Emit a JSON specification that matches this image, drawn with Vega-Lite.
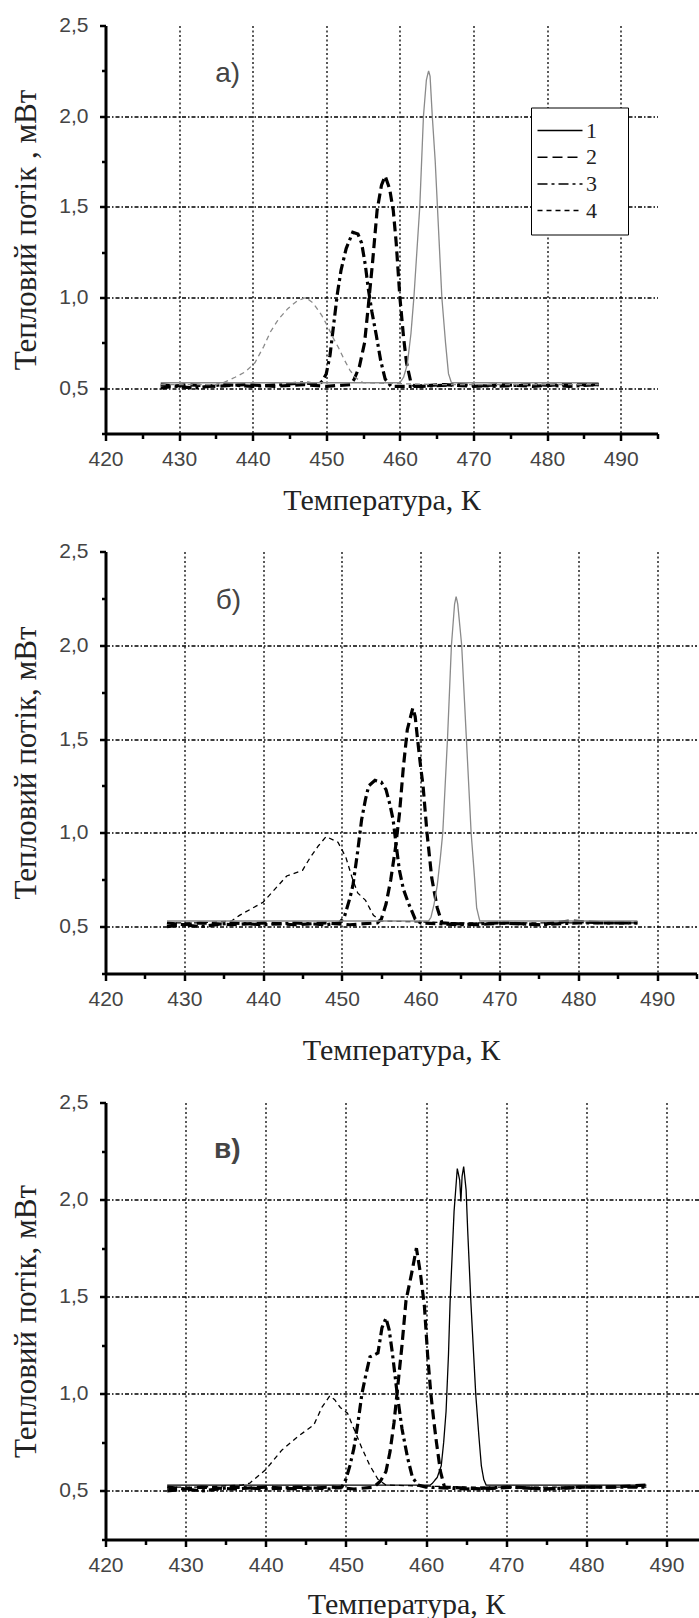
{
"$schema": "https://vega.github.io/schema/vega-lite/v6.json",
"padding": {"left": 10.5, "top": 14.5, "right": 0, "bottom": 0},
"background": "white",
"spacing": 25,
"config": {"view": {"stroke": null}, "font": "Liberation Sans",
 "line": {"strokeCap": "butt"},
 "text": {"font": "Liberation Sans", "fontSize": 28, "color": "#444"}
},
"resolve": {"legend": {"strokeDash": "independent"}},
"datasets": {
"a": [
{"s":"1","T":427.5,"v":0.53},{"s":"1","T":440,"v":0.53},{"s":"1","T":455,"v":0.53},{"s":"1","T":460,"v":0.53},{"s":"1","T":460.5,"v":0.56},{"s":"1","T":461,"v":0.63},{"s":"1","T":461.5,"v":0.8},{"s":"1","T":461.9,"v":1.0},{"s":"1","T":462.3,"v":1.25},{"s":"1","T":462.7,"v":1.5},{"s":"1","T":463.2,"v":2.0},{"s":"1","T":463.6,"v":2.2},{"s":"1","T":463.9,"v":2.25},{"s":"1","T":464.1,"v":2.22},{"s":"1","T":464.4,"v":2.0},{"s":"1","T":464.8,"v":1.75},{"s":"1","T":465.1,"v":1.5},{"s":"1","T":465.7,"v":1.0},{"s":"1","T":466.2,"v":0.75},{"s":"1","T":466.6,"v":0.58},{"s":"1","T":467,"v":0.53},{"s":"1","T":475,"v":0.53},{"s":"1","T":487,"v":0.53},
{"s":"2","T":427.5,"v":0.5},{"s":"2","T":431,"v":0.52},{"s":"2","T":435,"v":0.51},{"s":"2","T":439,"v":0.52},{"s":"2","T":443,"v":0.51},{"s":"2","T":447,"v":0.52},{"s":"2","T":450,"v":0.51},{"s":"2","T":453.3,"v":0.52},{"s":"2","T":453.8,"v":0.55},{"s":"2","T":454.5,"v":0.62},{"s":"2","T":455.2,"v":0.75},{"s":"2","T":455.7,"v":0.95},{"s":"2","T":456.3,"v":1.2},{"s":"2","T":456.9,"v":1.48},{"s":"2","T":457.5,"v":1.62},{"s":"2","T":458,"v":1.67},{"s":"2","T":458.6,"v":1.6},{"s":"2","T":459.1,"v":1.48},{"s":"2","T":459.5,"v":1.3},{"s":"2","T":460,"v":1.0},{"s":"2","T":460.5,"v":0.78},{"s":"2","T":460.9,"v":0.64},{"s":"2","T":461.5,"v":0.53},{"s":"2","T":462,"v":0.51},{"s":"2","T":466,"v":0.52},{"s":"2","T":470,"v":0.51},{"s":"2","T":474,"v":0.52},{"s":"2","T":478,"v":0.51},{"s":"2","T":482,"v":0.52},{"s":"2","T":487,"v":0.52},
{"s":"3","T":427.5,"v":0.52},{"s":"3","T":432,"v":0.5},{"s":"3","T":436,"v":0.52},{"s":"3","T":440,"v":0.51},{"s":"3","T":444,"v":0.52},{"s":"3","T":447,"v":0.53},{"s":"3","T":449,"v":0.52},{"s":"3","T":449.5,"v":0.54},{"s":"3","T":450,"v":0.58},{"s":"3","T":450.5,"v":0.68},{"s":"3","T":451,"v":0.85},{"s":"3","T":451.5,"v":1.02},{"s":"3","T":452,"v":1.15},{"s":"3","T":452.7,"v":1.27},{"s":"3","T":453.6,"v":1.36},{"s":"3","T":454.3,"v":1.35},{"s":"3","T":454.8,"v":1.3},{"s":"3","T":455.3,"v":1.18},{"s":"3","T":455.7,"v":1.05},{"s":"3","T":456.2,"v":0.92},{"s":"3","T":456.8,"v":0.79},{"s":"3","T":457.4,"v":0.65},{"s":"3","T":458,"v":0.55},{"s":"3","T":458.8,"v":0.51},{"s":"3","T":463,"v":0.51},{"s":"3","T":468,"v":0.52},{"s":"3","T":473,"v":0.51},{"s":"3","T":478,"v":0.52},{"s":"3","T":483,"v":0.51},{"s":"3","T":487,"v":0.52},
{"s":"4","T":427.5,"v":0.52},{"s":"4","T":432,"v":0.52},{"s":"4","T":435,"v":0.52},{"s":"4","T":436,"v":0.53},{"s":"4","T":437.6,"v":0.56},{"s":"4","T":439,"v":0.59},{"s":"4","T":440.3,"v":0.64},{"s":"4","T":441.5,"v":0.73},{"s":"4","T":442.4,"v":0.81},{"s":"4","T":443.5,"v":0.88},{"s":"4","T":444.8,"v":0.94},{"s":"4","T":446,"v":0.98},{"s":"4","T":447.2,"v":1.0},{"s":"4","T":448.2,"v":0.97},{"s":"4","T":449.4,"v":0.9},{"s":"4","T":450.2,"v":0.84},{"s":"4","T":450.9,"v":0.78},{"s":"4","T":451.7,"v":0.72},{"s":"4","T":452.4,"v":0.66},{"s":"4","T":453.2,"v":0.6},{"s":"4","T":453.9,"v":0.56},{"s":"4","T":455,"v":0.53},{"s":"4","T":465,"v":0.52},{"s":"4","T":487,"v":0.52}
],
"b": [
{"s":"1","T":427.8,"v":0.53},{"s":"1","T":440,"v":0.53},{"s":"1","T":455,"v":0.53},{"s":"1","T":461,"v":0.53},{"s":"1","T":461.3,"v":0.55},{"s":"1","T":461.7,"v":0.62},{"s":"1","T":462.1,"v":0.72},{"s":"1","T":462.5,"v":0.87},{"s":"1","T":462.8,"v":1.0},{"s":"1","T":463.1,"v":1.25},{"s":"1","T":463.4,"v":1.5},{"s":"1","T":463.9,"v":2.0},{"s":"1","T":464.3,"v":2.22},{"s":"1","T":464.5,"v":2.26},{"s":"1","T":464.7,"v":2.22},{"s":"1","T":465.2,"v":2.0},{"s":"1","T":465.8,"v":1.5},{"s":"1","T":466.4,"v":1.0},{"s":"1","T":466.8,"v":0.78},{"s":"1","T":467.1,"v":0.6},{"s":"1","T":467.5,"v":0.53},{"s":"1","T":477,"v":0.53},{"s":"1","T":487.5,"v":0.53},
{"s":"2","T":427.8,"v":0.5},{"s":"2","T":432,"v":0.52},{"s":"2","T":436,"v":0.51},{"s":"2","T":440,"v":0.52},{"s":"2","T":444,"v":0.51},{"s":"2","T":448,"v":0.52},{"s":"2","T":451,"v":0.51},{"s":"2","T":454.5,"v":0.52},{"s":"2","T":455,"v":0.54},{"s":"2","T":455.6,"v":0.62},{"s":"2","T":456.2,"v":0.75},{"s":"2","T":456.8,"v":0.92},{"s":"2","T":457.3,"v":1.1},{"s":"2","T":457.8,"v":1.35},{"s":"2","T":458.3,"v":1.55},{"s":"2","T":459,"v":1.666},{"s":"2","T":459.3,"v":1.62},{"s":"2","T":459.6,"v":1.5},{"s":"2","T":460,"v":1.35},{"s":"2","T":460.3,"v":1.25},{"s":"2","T":460.6,"v":1.1},{"s":"2","T":460.8,"v":1.0},{"s":"2","T":461.1,"v":0.88},{"s":"2","T":461.4,"v":0.76},{"s":"2","T":462.1,"v":0.6},{"s":"2","T":462.7,"v":0.52},{"s":"2","T":467,"v":0.51},{"s":"2","T":471,"v":0.52},{"s":"2","T":475,"v":0.51},{"s":"2","T":479,"v":0.53},{"s":"2","T":483,"v":0.52},{"s":"2","T":487.5,"v":0.52},
{"s":"3","T":427.8,"v":0.52},{"s":"3","T":432,"v":0.5},{"s":"3","T":436,"v":0.52},{"s":"3","T":440,"v":0.51},{"s":"3","T":444,"v":0.52},{"s":"3","T":448,"v":0.51},{"s":"3","T":449.7,"v":0.52},{"s":"3","T":450.3,"v":0.55},{"s":"3","T":451,"v":0.65},{"s":"3","T":451.4,"v":0.72},{"s":"3","T":452,"v":0.9},{"s":"3","T":452.5,"v":1.07},{"s":"3","T":453,"v":1.18},{"s":"3","T":453.4,"v":1.25},{"s":"3","T":454.2,"v":1.28},{"s":"3","T":455,"v":1.27},{"s":"3","T":455.6,"v":1.23},{"s":"3","T":456.1,"v":1.15},{"s":"3","T":456.5,"v":1.07},{"s":"3","T":456.9,"v":0.93},{"s":"3","T":457.3,"v":0.8},{"s":"3","T":457.8,"v":0.7},{"s":"3","T":458.4,"v":0.63},{"s":"3","T":459.3,"v":0.54},{"s":"3","T":460,"v":0.52},{"s":"3","T":465,"v":0.51},{"s":"3","T":470,"v":0.52},{"s":"3","T":475,"v":0.51},{"s":"3","T":480,"v":0.52},{"s":"3","T":487.5,"v":0.52},
{"s":"4","T":427.8,"v":0.52},{"s":"4","T":432,"v":0.52},{"s":"4","T":436,"v":0.53},{"s":"4","T":437,"v":0.56},{"s":"4","T":440,"v":0.63},{"s":"4","T":441.5,"v":0.7},{"s":"4","T":443,"v":0.77},{"s":"4","T":445,"v":0.8},{"s":"4","T":446,"v":0.87},{"s":"4","T":447,"v":0.93},{"s":"4","T":448,"v":0.98},{"s":"4","T":449.5,"v":0.95},{"s":"4","T":450.5,"v":0.87},{"s":"4","T":451.3,"v":0.76},{"s":"4","T":452,"v":0.68},{"s":"4","T":453,"v":0.64},{"s":"4","T":454,"v":0.56},{"s":"4","T":455,"v":0.53},{"s":"4","T":465,"v":0.52},{"s":"4","T":487.5,"v":0.52}
],
"c": [
{"s":"1","T":427.7,"v":0.53},{"s":"1","T":440,"v":0.53},{"s":"1","T":455,"v":0.53},{"s":"1","T":460.5,"v":0.53},{"s":"1","T":460.8,"v":0.54},{"s":"1","T":461.4,"v":0.57},{"s":"1","T":461.9,"v":0.63},{"s":"1","T":462.2,"v":0.75},{"s":"1","T":462.5,"v":0.91},{"s":"1","T":462.8,"v":1.2},{"s":"1","T":463,"v":1.47},{"s":"1","T":463.5,"v":1.94},{"s":"1","T":463.9,"v":2.16},{"s":"1","T":464.2,"v":2.1},{"s":"1","T":464.35,"v":1.99},{"s":"1","T":464.5,"v":2.12},{"s":"1","T":464.7,"v":2.17},{"s":"1","T":465,"v":2.05},{"s":"1","T":465.2,"v":1.84},{"s":"1","T":465.6,"v":1.47},{"s":"1","T":466.2,"v":1.0},{"s":"1","T":466.6,"v":0.78},{"s":"1","T":466.9,"v":0.63},{"s":"1","T":467.2,"v":0.56},{"s":"1","T":467.5,"v":0.53},{"s":"1","T":477,"v":0.53},{"s":"1","T":487.5,"v":0.53},
{"s":"2","T":427.7,"v":0.5},{"s":"2","T":432,"v":0.52},{"s":"2","T":436,"v":0.51},{"s":"2","T":440,"v":0.52},{"s":"2","T":444,"v":0.51},{"s":"2","T":448,"v":0.52},{"s":"2","T":451,"v":0.51},{"s":"2","T":453.5,"v":0.52},{"s":"2","T":454.3,"v":0.55},{"s":"2","T":455,"v":0.6},{"s":"2","T":455.5,"v":0.7},{"s":"2","T":456,"v":0.85},{"s":"2","T":456.5,"v":1.05},{"s":"2","T":457,"v":1.25},{"s":"2","T":457.5,"v":1.48},{"s":"2","T":458.2,"v":1.62},{"s":"2","T":458.8,"v":1.75},{"s":"2","T":459.3,"v":1.62},{"s":"2","T":459.8,"v":1.45},{"s":"2","T":460.2,"v":1.2},{"s":"2","T":460.6,"v":1.0},{"s":"2","T":461,"v":0.85},{"s":"2","T":461.3,"v":0.75},{"s":"2","T":461.8,"v":0.6},{"s":"2","T":462.3,"v":0.52},{"s":"2","T":467,"v":0.51},{"s":"2","T":471,"v":0.52},{"s":"2","T":475,"v":0.51},{"s":"2","T":479,"v":0.52},{"s":"2","T":483,"v":0.52},{"s":"2","T":487.5,"v":0.53},
{"s":"3","T":427.7,"v":0.52},{"s":"3","T":432,"v":0.5},{"s":"3","T":436,"v":0.52},{"s":"3","T":440,"v":0.51},{"s":"3","T":444,"v":0.52},{"s":"3","T":448,"v":0.51},{"s":"3","T":449.5,"v":0.52},{"s":"3","T":450,"v":0.56},{"s":"3","T":450.5,"v":0.63},{"s":"3","T":451,"v":0.72},{"s":"3","T":451.5,"v":0.85},{"s":"3","T":452,"v":1.0},{"s":"3","T":452.5,"v":1.1},{"s":"3","T":453,"v":1.19},{"s":"3","T":454,"v":1.21},{"s":"3","T":454.5,"v":1.34},{"s":"3","T":455,"v":1.39},{"s":"3","T":455.4,"v":1.33},{"s":"3","T":455.8,"v":1.21},{"s":"3","T":456.4,"v":1.0},{"s":"3","T":457,"v":0.82},{"s":"3","T":457.7,"v":0.67},{"s":"3","T":458.3,"v":0.57},{"s":"3","T":459,"v":0.53},{"s":"3","T":460,"v":0.52},{"s":"3","T":465,"v":0.51},{"s":"3","T":470,"v":0.52},{"s":"3","T":475,"v":0.51},{"s":"3","T":480,"v":0.52},{"s":"3","T":487.5,"v":0.52},
{"s":"4","T":427.7,"v":0.52},{"s":"4","T":432,"v":0.52},{"s":"4","T":437,"v":0.53},{"s":"4","T":438,"v":0.54},{"s":"4","T":440,"v":0.61},{"s":"4","T":442,"v":0.71},{"s":"4","T":444,"v":0.78},{"s":"4","T":446,"v":0.84},{"s":"4","T":447,"v":0.93},{"s":"4","T":448,"v":0.99},{"s":"4","T":448.6,"v":0.97},{"s":"4","T":449.3,"v":0.93},{"s":"4","T":450.2,"v":0.9},{"s":"4","T":451,"v":0.82},{"s":"4","T":452,"v":0.72},{"s":"4","T":453,"v":0.63},{"s":"4","T":454,"v":0.56},{"s":"4","T":455,"v":0.53},{"s":"4","T":465,"v":0.52},{"s":"4","T":487.5,"v":0.52}
]
},
"vconcat": [
{
"width": 552, "height": 408,
"encoding": {
 "x": {"field": "T", "type": "quantitative", "scale": {"domain": [420, 495], "nice": false, "zero": false},
  "axis": {"title": "Температура, К", "values": [420,425,430,435,440,445,450,455,460,465,470,475,480,485,490,495], "labelExpr": "datum.value % 10 == 0 && datum.value < 495 ? datum.label : ''", "tickSize": {"condition": {"test": "datum.value % 10 != 0", "value": 5}, "value": 7}, "grid": true, "gridOpacity": {"condition": {"test": "datum.value % 10 == 0 && datum.value > 420", "value": 1}, "value": 0}, "gridDash": [2, 2.5], "gridColor": "#000", "gridWidth": 1.3, "domainColor": "#000", "domainWidth": 3, "tickColor": "#000", "tickWidth": 2.5, "labelFont": "Liberation Sans", "labelFontSize": 21, "labelColor": "#444", "labelPadding": 7.5, "labelOverlap": false, "labelFlush": false, "titleFont": "Liberation Serif", "titleFontSize": 30, "titleFontWeight": "normal", "titleColor": "#222", "titlePadding": 16}},
 "y": {"field": "v", "type": "quantitative", "scale": {"domain": [0.25, 2.5], "nice": false, "zero": false},
  "axis": {"title": "Тепловий потік , мВт", "values": [0.25,0.5,0.75,1,1.25,1.5,1.75,2,2.25,2.5], "labelExpr": "round(datum.value*4) % 2 == 0 ? replace(format(datum.value, '.1f'), '.', ',') : ''", "tickSize": {"condition": {"test": "round(datum.value*4) % 2 != 0", "value": 4}, "value": 6}, "grid": true, "gridOpacity": {"condition": {"test": "round(datum.value*4) % 2 == 0 && datum.value < 2.4", "value": 1}, "value": 0}, "gridDash": [4, 2, 1.5, 2], "gridColor": "#000", "gridWidth": 1.3, "domainColor": "#000", "domainWidth": 3, "tickColor": "#000", "tickWidth": 2.5, "labelFont": "Liberation Sans", "labelFontSize": 21, "labelColor": "#444", "labelPadding": 11.5, "labelOverlap": false, "labelFlush": false, "titleFont": "Liberation Serif", "titleFontSize": 31, "titleFontWeight": "normal", "titleColor": "#222", "titlePadding": 16.3}}
},
"layer": [
{"data": {"name": "a"}, "transform": [{"filter": "datum.s == '2' || datum.s == '3'"}], "mark": {"type": "line", "color": "#000", "strokeWidth": 3.2},
 "encoding": {
  "strokeDash": {"field": "s", "type": "ordinal", "scale": {"domain": ["1","2","3","4"], "range": [[1,0],[10,5],[10,4,3,4],[5,4]]},
   "legend": {"orient": "none", "legendX": 425.5, "legendY": 82, "title": "0", "titleOrient": "right", "titleOpacity": 0, "titleFont": "Liberation Serif", "titleFontSize": 22, "titlePadding": 8, "symbolType": "M-3,0L3,0", "symbolSize": 225, "symbolOffset": 6, "labelOffset": 15, "padding": 12, "rowPadding": 4.7, "labelFont": "Liberation Serif", "labelFontSize": 22, "labelColor": "#222", "strokeColor": "#000", "fillColor": "#fff",
    "encode": {"symbols": {"update": {"stroke": {"value": "#000"}, "strokeWidth": {"signal": "datum.value == '2' || datum.value == '3' ? 3.2 : 1.3"}}}, "legend": {"update": {"strokeWidth": {"value": 1.6}}}}}}
 }},
{"data": {"name": "a"}, "transform": [{"filter": "datum.s == '1' || datum.s == '4'"}], "mark": {"type": "line", "color": "#8a8a8a", "strokeWidth": 1.3},
 "encoding": {"strokeDash": {"field": "s", "type": "ordinal"}}},
{"data": {"values": [{"T": 436.6, "v": 2.235, "t": "а)"}]}, "mark": {"type": "text"}, "encoding": {"text": {"field": "t"}}}
]
},
{
"width": 591, "height": 422,
"encoding": {
 "x": {"field": "T", "type": "quantitative", "scale": {"domain": [420, 495], "nice": false, "zero": false},
  "axis": {"title": "Температура, К", "values": [420,425,430,435,440,445,450,455,460,465,470,475,480,485,490,495], "labelExpr": "datum.value % 10 == 0 && datum.value < 495 ? datum.label : ''", "tickSize": {"condition": {"test": "datum.value % 10 != 0", "value": 5}, "value": 7}, "grid": true, "gridOpacity": {"condition": {"test": "datum.value % 10 == 0 && datum.value > 420", "value": 1}, "value": 0}, "gridDash": [2, 2.5], "gridColor": "#000", "gridWidth": 1.3, "domainColor": "#000", "domainWidth": 3, "tickColor": "#000", "tickWidth": 2.5, "labelFont": "Liberation Sans", "labelFontSize": 21, "labelColor": "#444", "labelPadding": 7.5, "labelOverlap": false, "labelFlush": false, "titleFont": "Liberation Serif", "titleFontSize": 30, "titleFontWeight": "normal", "titleColor": "#222", "titlePadding": 26.8}},
 "y": {"field": "v", "type": "quantitative", "scale": {"domain": [0.25, 2.5], "nice": false, "zero": false},
  "axis": {"title": "Тепловий потік,  мВт", "values": [0.25,0.5,0.75,1,1.25,1.5,1.75,2,2.25,2.5], "labelExpr": "round(datum.value*4) % 2 == 0 ? replace(format(datum.value, '.1f'), '.', ',') : ''", "tickSize": {"condition": {"test": "round(datum.value*4) % 2 != 0", "value": 4}, "value": 6}, "grid": true, "gridOpacity": {"condition": {"test": "round(datum.value*4) % 2 == 0 && datum.value < 2.4", "value": 1}, "value": 0}, "gridDash": [4, 2, 1.5, 2], "gridColor": "#000", "gridWidth": 1.3, "domainColor": "#000", "domainWidth": 3, "tickColor": "#000", "tickWidth": 2.5, "labelFont": "Liberation Sans", "labelFontSize": 21, "labelColor": "#444", "labelPadding": 11.5, "labelOverlap": false, "labelFlush": false, "titleFont": "Liberation Serif", "titleFontSize": 31, "titleFontWeight": "normal", "titleColor": "#222", "titlePadding": 16.3}}
},
"layer": [
{"data": {"name": "b"}, "transform": [{"filter": "datum.s == '2' || datum.s == '3'"}], "mark": {"type": "line", "color": "#000", "strokeWidth": 3.2},
 "encoding": {"strokeDash": {"field": "s", "type": "ordinal", "scale": {"domain": ["1","2","3","4"], "range": [[1,0],[10,5],[10,4,3,4],[5,4]]}, "legend": null}}},
{"data": {"name": "b"}, "transform": [{"filter": "datum.s == '4'"}], "mark": {"type": "line", "color": "#000", "strokeWidth": 1.3},
 "encoding": {"strokeDash": {"field": "s", "type": "ordinal", "legend": null}}},
{"data": {"name": "b"}, "transform": [{"filter": "datum.s == '1'"}], "mark": {"type": "line", "color": "#8a8a8a", "strokeWidth": 1.3},
 "encoding": {"strokeDash": {"field": "s", "type": "ordinal", "legend": null}}},
{"data": {"values": [{"T": 435.6, "v": 2.234, "t": "б)"}]}, "mark": {"type": "text"}, "encoding": {"text": {"field": "t"}}}
]
},
{
"width": 601, "height": 437,
"encoding": {
 "x": {"field": "T", "type": "quantitative", "scale": {"domain": [420, 495], "nice": false, "zero": false},
  "axis": {"title": "Температура, К", "values": [420,425,430,435,440,445,450,455,460,465,470,475,480,485,490,495], "labelExpr": "datum.value % 10 == 0 && datum.value < 495 ? datum.label : ''", "tickSize": {"condition": {"test": "datum.value % 10 != 0", "value": 5}, "value": 7}, "grid": true, "gridOpacity": {"condition": {"test": "datum.value % 10 == 0 && datum.value > 420", "value": 1}, "value": 0}, "gridDash": [2, 2.5], "gridColor": "#000", "gridWidth": 1.3, "domainColor": "#000", "domainWidth": 3, "tickColor": "#000", "tickWidth": 2.5, "labelFont": "Liberation Sans", "labelFontSize": 21, "labelColor": "#444", "labelPadding": 7.5, "labelOverlap": false, "labelFlush": false, "titleFont": "Liberation Serif", "titleFontSize": 30, "titleFontWeight": "normal", "titleColor": "#222", "titlePadding": 14.5}},
 "y": {"field": "v", "type": "quantitative", "scale": {"domain": [0.25, 2.5], "nice": false, "zero": false},
  "axis": {"title": "Тепловий потік,  мВт", "values": [0.25,0.5,0.75,1,1.25,1.5,1.75,2,2.25,2.5], "labelExpr": "round(datum.value*4) % 2 == 0 ? replace(format(datum.value, '.1f'), '.', ',') : ''", "tickSize": {"condition": {"test": "round(datum.value*4) % 2 != 0", "value": 4}, "value": 6}, "grid": true, "gridOpacity": {"condition": {"test": "round(datum.value*4) % 2 == 0 && datum.value < 2.4", "value": 1}, "value": 0}, "gridDash": [4, 2, 1.5, 2], "gridColor": "#000", "gridWidth": 1.3, "domainColor": "#000", "domainWidth": 3, "tickColor": "#000", "tickWidth": 2.5, "labelFont": "Liberation Sans", "labelFontSize": 21, "labelColor": "#444", "labelPadding": 11.5, "labelOverlap": false, "labelFlush": false, "titleFont": "Liberation Serif", "titleFontSize": 31, "titleFontWeight": "normal", "titleColor": "#222", "titlePadding": 16.3}}
},
"layer": [
{"data": {"name": "c"}, "transform": [{"filter": "datum.s == '2' || datum.s == '3'"}], "mark": {"type": "line", "color": "#000", "strokeWidth": 3.2},
 "encoding": {"strokeDash": {"field": "s", "type": "ordinal", "scale": {"domain": ["1","2","3","4"], "range": [[1,0],[10,5],[10,4,3,4],[5,4]]}, "legend": null}}},
{"data": {"name": "c"}, "transform": [{"filter": "datum.s == '1' || datum.s == '4'"}], "mark": {"type": "line", "color": "#000", "strokeWidth": 1.3},
 "encoding": {"strokeDash": {"field": "s", "type": "ordinal", "legend": null}}},
{"data": {"values": [{"T": 435.2, "v": 2.255, "t": "в)"}]}, "mark": {"type": "text", "fontWeight": "bold"}, "encoding": {"text": {"field": "t"}}}
]
}
]
}
